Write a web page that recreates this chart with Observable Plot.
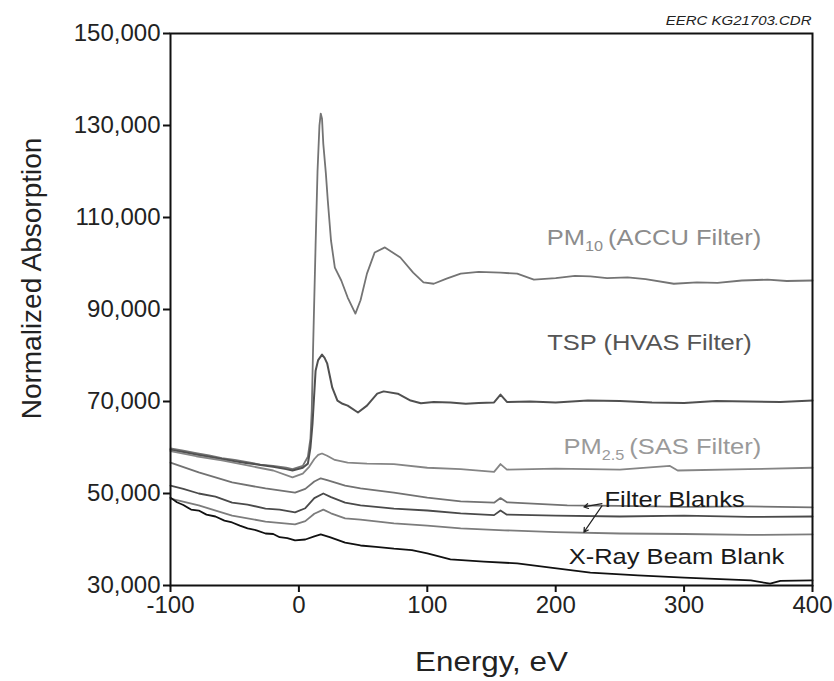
<!DOCTYPE html>
<html><head><meta charset="utf-8">
<script src="https://cdn.jsdelivr.net/npm/d3@7"></script>
<script src="https://cdn.jsdelivr.net/npm/@observablehq/plot@0.6"></script>
<style>
body{margin:0;background:#fff;}
#chart svg{display:block;}
</style></head><body><div id="chart"></div><script>
// ---- data ----
const pm10Energy = [-100,-90,-80,-70,-60,-50,-40,-30,-20,-10,-5,3,7,9,10,11,13,14.5,16,17,18,19,21,22.5,25,28,33,38,44,48,53,59,67,79,89,97,105,115,126,140,157,170,183,200,215,227,240,256,270,292,310,326,345,365,380,400];
const pm10Abs    = [59800,59300,58800,58300,57700,57300,56800,56300,56000,55600,55300,56000,58000,62000,68000,81000,104000,120000,130000,132600,131500,126000,119600,113700,105000,99100,96300,92600,89100,92000,97800,102400,103500,101300,98000,95900,95600,96700,97800,98200,98000,97800,96500,96800,97300,97200,96800,97000,96600,95600,95900,95800,96300,96500,96200,96300];

const tspEnergy = [-100,-90,-80,-70,-60,-50,-40,-30,-20,-10,-5,3,7,9,10.6,13,15,18,20,22,26,30,34,38,46,53,61,66,77,87,95,105,118,130,140,152,157,162,180,200,225,250,275,300,325,350,375,400];
const tspAbs    = [59500,59000,58500,58000,57500,57000,56600,56200,55800,55300,55000,55600,56500,60000,65200,76700,79000,80200,79500,78300,73000,70200,69500,69100,67600,69100,71700,72200,71700,70200,69600,69900,69800,69500,69700,69800,71500,69900,70000,69800,70200,70100,69800,69700,70100,70000,69900,70200];

const pm25Energy = [-100,-80,-60,-40,-20,-5,3,8,12,15,18,22,28,38,53,74,100,126,152,157,162,200,250,289,295,350,400];
const pm25Abs    = [59200,58100,57200,56100,55000,53500,54300,55800,57500,58400,58700,58200,57300,56700,56500,56400,55600,55300,54700,56400,55200,55400,55200,56000,55000,55300,55600];

const blank1Energy = [-100,-78,-52,-26,-3,5,12,17,22,36,48,74,100,126,152,157,162,209,250,300,350,400];
const blank1Abs    = [56700,54600,52400,51100,50200,51000,52600,53300,52900,51700,51100,50200,49100,48300,48000,49000,48100,47400,47300,47100,47200,47000];

const blank2Energy = [-100,-90,-78,-65,-52,-40,-26,-15,-3,5,12,19,25,36,48,74,100,126,152,157,162,200,250,300,350,400];
const blank2Abs    = [51700,51000,50000,49300,48000,47600,46700,46500,45900,46800,49000,50000,49200,48000,47400,46700,46300,45700,45300,46300,45400,45200,45000,45200,44900,45000];

const blank3Energy = [-100,-78,-52,-26,-3,5,12,19,25,36,48,74,100,126,160,200,250,300,350,400];
const blank3Abs    = [48900,47400,45200,43900,43300,44000,45600,46500,45700,44600,44300,43500,43000,42400,42000,41600,41300,41200,41000,41100];

const beamEnergy = [-100,-95,-90,-84,-78,-72,-65,-58,-52,-46,-40,-33,-26,-20,-15,-9,-3,5,12,17,24,30,36,48,60,74,88,100,118,144,170,196,227,264,300,352,367,375,400];
const beamAbs    = [49100,48100,47500,46500,46300,45400,45000,44100,43700,43000,42400,42000,41300,41200,40500,40300,39800,40000,40700,41100,40500,39900,39300,38700,38400,38000,37700,37000,35700,35200,34800,33900,32800,32200,31700,31100,30400,31000,31100];

const xTicks = [-100,0,100,200,300,400];
const yTicks = [30000,50000,70000,90000,110000,130000,150000];

const labelTexts = ["PM10 (ACCU Filter)","TSP (HVAS Filter)","PM2.5 (SAS Filter)","Filter Blanks","X-Ray Beam Blank"];
const xTitle = "Energy, eV";
const yTitle = "Normalized Absorption";
const fileNote = "EERC KG21703.CDR";

// ---- build tables ----
const rows = (xs, ys) => xs.map((x, i) => ({energy: x, absorption: ys[i]}));
const series = [
  {data: rows(pm10Energy, pm10Abs),   color: "#747474", width: 1.8},
  {data: rows(tspEnergy, tspAbs),     color: "#505050", width: 2},
  {data: rows(pm25Energy, pm25Abs),   color: "#858585", width: 1.8},
  {data: rows(blank1Energy, blank1Abs), color: "#727272", width: 1.8},
  {data: rows(blank2Energy, blank2Abs), color: "#4a4a4a", width: 1.8},
  {data: rows(blank3Energy, blank3Abs), color: "#7c7c7c", width: 1.8},
  {data: rows(beamEnergy, beamAbs),   color: "#111111", width: 1.8}
];

// annotation placement (layout, not data)
const labelPlace = [
  {x: 276.5, y: 105500, color: "#8c8c8c", anchor: "middle"},
  {x: 273, y: 82800,  color: "#555555", anchor: "middle"},
  {x: 283, y: 60200,  color: "#9a9a9a", anchor: "middle"},
  {x: 238, y: 48700,  color: "#1a1a1a", anchor: "start"},
  {x: 294, y: 36100,  color: "#1a1a1a", anchor: "middle"}
];
const labelRows = labelTexts.map((t, i) => ({text: t, ...labelPlace[i]}));
const pointerRows = [
  {x1: 236, y1: 47800, x2: 222, y2: 47100},
  {x1: 236, y1: 47300, x2: 222, y2: 41600}
];

const font = "'Liberation Sans', Arial, Helvetica, sans-serif";

const plot = Plot.plot({
  width: 834,
  height: 681,
  marginLeft: 170,
  marginRight: 22,
  marginTop: 33,
  marginBottom: 96,
  style: {fontFamily: font, fontSize: "24px", color: "#222", background: "#fff"},
  x: {domain: [-100, 400], ticks: xTicks, tickSize: 7, tickPadding: 3, tickFormat: d => String(d), label: null},
  y: {domain: [30000, 150000], ticks: yTicks, tickSize: 7, tickPadding: 3, tickFormat: d3.format(","), label: null},
  marks: [
    ...series.map(s => Plot.line(s.data, {x: "energy", y: "absorption", stroke: s.color, strokeWidth: s.width, curve: "linear"})),
    Plot.frame({stroke: "#111", strokeWidth: 2}),
    Plot.text(labelRows.filter(d => d.anchor === "middle"), {x: "x", y: "y", text: "text", fill: "color", textAnchor: "middle", fontSize: 22}),
    Plot.text(labelRows.filter(d => d.anchor === "start"), {x: "x", y: "y", text: "text", fill: "color", textAnchor: "start", fontSize: 22}),
    Plot.arrow(pointerRows, {x1: "x1", y1: "y1", x2: "x2", y2: "y2", stroke: "#222", strokeWidth: 1.2, headLength: 6}),
    Plot.text([xTitle], {frameAnchor: "bottom", text: d => d, textAnchor: "middle", lineAnchor: "middle", dx: 0, dy: 77, fontSize: 28, fill: "#222"}),
    Plot.text([yTitle], {frameAnchor: "left", text: d => d, textAnchor: "middle", lineAnchor: "middle", rotate: -90, dx: -138, dy: -31, fontSize: 28, fill: "#222"}),
    Plot.text([fileNote], {frameAnchor: "top-right", text: d => d, textAnchor: "end", lineAnchor: "middle", dx: -1, dy: -12, fontSize: 12, fontStyle: "italic", fill: "#222"})
  ]
});

// thicker axis ticks
plot.querySelectorAll('g[aria-label$="tick"]').forEach(g => { g.setAttribute("stroke-width", "2"); g.setAttribute("stroke", "#111"); });

// horizontal stretch of annotation text to match the reference's wide lettering
const stretch = new Map([...labelTexts.map(t => [t, 1.16]), [xTitle, 1.12], [fileNote, 1.25]]);
plot.querySelectorAll("text").forEach(t => {
  const k = stretch.get(t.textContent);
  if (!k) return;
  const x = parseFloat(t.getAttribute("x")) || 0;
  const tr = t.getAttribute("transform") || "";
  t.setAttribute("transform", `${tr} translate(${x},0) scale(${k},1) translate(${-x},0)`);
});

// subscripts for PM10 / PM2.5
const subs = {"PM10 (ACCU Filter)": ["PM", "10", "(ACCU Filter)"], "PM2.5 (SAS Filter)": ["PM", "2.5", "(SAS Filter)"]};
plot.querySelectorAll("text").forEach(t => {
  const parts = subs[t.textContent];
  if (!parts) return;
  while (t.firstChild) t.removeChild(t.firstChild);
  const ns = "http://www.w3.org/2000/svg";
  const a = document.createElementNS(ns, "tspan"); a.textContent = parts[0];
  const b = document.createElementNS(ns, "tspan"); b.textContent = parts[1]; b.setAttribute("font-size", "14"); b.setAttribute("dy", "6");
  const c = document.createElementNS(ns, "tspan"); c.textContent = "\u2009" + parts[2]; c.setAttribute("dy", "-6");
  t.append(a, b, c);
});

document.getElementById("chart").append(plot);
</script></body></html>
